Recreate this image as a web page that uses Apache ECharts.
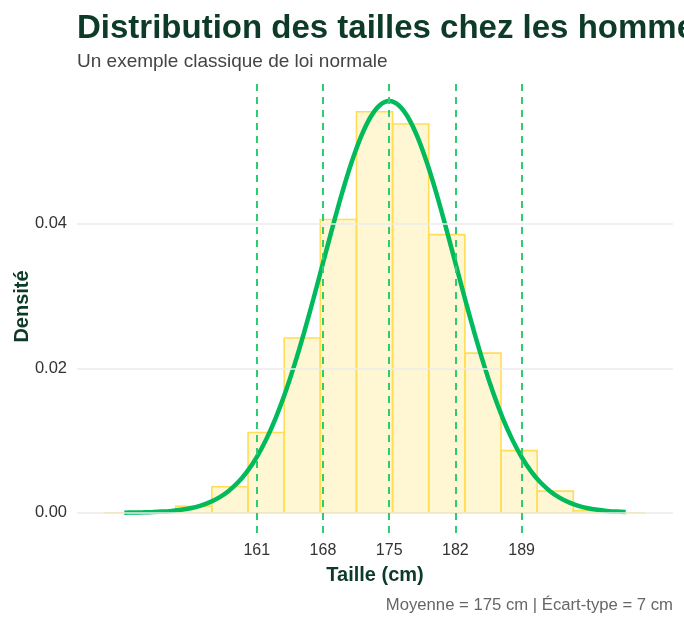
<!DOCTYPE html>
<html>
<head>
<meta charset="utf-8">
<script src="https://cdn.jsdelivr.net/npm/echarts@6/dist/echarts.min.js"></script>
<style>
  html, body { margin: 0; padding: 0; background: #fff; }
  #main { width: 684px; height: 622px; }
</style>
</head>
<body>
<div id="main"></div>
<script>
// bornes des classes de l'histogramme (cm)
const binEdges = [144.80, 148.62, 152.44, 156.26, 160.08, 163.90, 167.72, 171.54,
  175.36, 179.18, 183.00, 186.82, 190.64, 194.46, 198.28, 202.10];
// densité de chaque classe
const binDensity = [0, 0.0001, 0.0009, 0.0036, 0.0111, 0.0242, 0.0406, 0.0555,
  0.0538, 0.0385, 0.0221, 0.0086, 0.0030, 0.0003, 0];

// courbe normale
const curveX = [147, 148, 149, 150, 151, 152, 153, 154, 155, 156, 157, 158, 159, 160,
  161, 162, 163, 164, 165, 166, 167, 168, 169, 170, 171, 172, 173, 174, 175,
  176, 177, 178, 179, 180, 181, 182, 183, 184, 185, 186, 187, 188, 189, 190,
  191, 192, 193, 194, 195, 196, 197, 198, 199, 200];
const curveY = [0.00002, 0.00003, 0.00006, 0.00010, 0.00016, 0.00026, 0.00041, 0.00063,
  0.00096, 0.00143, 0.00209, 0.00299, 0.00418, 0.00574, 0.00771, 0.01016, 0.01311,
  0.01658, 0.02054, 0.02494, 0.02966, 0.03457, 0.03947, 0.04416, 0.04840, 0.05199,
  0.05471, 0.05641, 0.05699,
  0.05641, 0.05471, 0.05199, 0.04840, 0.04416, 0.03947, 0.03457, 0.02966, 0.02494,
  0.02054, 0.01658, 0.01311, 0.01016, 0.00771, 0.00574, 0.00418, 0.00299, 0.00209,
  0.00143, 0.00096, 0.00063, 0.00041, 0.00026, 0.00016, 0.00010];

// moyenne +/- 1 et 2 écarts-types
const sdLines = [161, 168, 175, 182, 189];
const xTicks = [161, 168, 175, 182, 189];
const yTicks = [0, 0.02, 0.04];

const FONT = 'Liberation Sans, Arial, sans-serif';

const chart = echarts.init(document.getElementById('main'));

const histData = binDensity.map((d, i) => [binEdges[i], binEdges[i + 1], d]);
const curveData = curveX.map((x, i) => [x, curveY[i]]);

const option = {
  backgroundColor: '#fff',
  animation: false,
  title: [
    {
      text: 'Distribution des tailles chez les hommes',
      left: 72, top: 7,
      textStyle: { fontFamily: FONT, fontSize: 33, fontWeight: 'bold', color: '#0e3b28' }
    },
    {
      text: 'Un exemple classique de loi normale',
      left: 72, top: 47,
      textStyle: { fontFamily: FONT, fontSize: 19, fontWeight: 'normal', color: '#444' }
    },
    {
      text: 'Moyenne = 175 cm | Écart-type = 7 cm',
      right: 6, top: 592,
      textStyle: { fontFamily: FONT, fontSize: 16.7, fontWeight: 'normal', color: '#666' }
    }
  ],
  grid: { left: 77, right: 11, top: 80, bottom: 89, containLabel: false, outerBoundsMode: 'none' },
  xAxis: {
    type: 'value',
    min: 142, max: 205,
    name: 'Taille (cm)',
    nameLocation: 'middle',
    nameGap: 32,
    nameMoveOverlap: false,
    nameTextStyle: { fontFamily: FONT, fontSize: 20, fontWeight: 'bold', color: '#0e3b28' },
    axisLine: { show: false },
    axisTick: { show: false },
    splitLine: { show: false },
    axisLabel: {
      customValues: xTicks,
      fontFamily: FONT, fontSize: 16, color: '#333', margin: 10
    }
  },
  yAxis: {
    type: 'value',
    min: -0.0028, max: 0.0599,
    name: 'Densité',
    nameLocation: 'middle',
    nameGap: 45,
    nameMoveOverlap: false,
    nameTextStyle: { fontFamily: FONT, fontSize: 20, fontWeight: 'bold', color: '#0e3b28' },
    axisLine: { show: false },
    axisTick: { show: false },
    splitLine: { show: false },
    axisLabel: {
      customValues: yTicks,
      formatter: v => v.toFixed(2),
      fontFamily: FONT, fontSize: 16.5, color: '#333', margin: 10
    }
  },
  series: [
    {
      // lignes de grille horizontales
      type: 'line',
      data: [],
      z: 1,
      silent: true,
      markLine: {
        silent: true,
        symbol: ['none', 'none'],
        label: { show: false },
        lineStyle: { color: '#ebebeb', width: 1.5, type: 'solid' },
        data: yTicks.map(v => ({ yAxis: v }))
      }
    },
    {
      type: 'custom',
      z: 2,
      data: histData,
      encode: { x: [0, 1], y: 2 },
      renderItem: function (params, api) {
        const p0 = api.coord([api.value(0), 0]);
        const p1 = api.coord([api.value(1), api.value(2)]);
        return {
          type: 'rect',
          shape: { x: p0[0], y: p1[1], width: p1[0] - p0[0], height: p0[1] - p1[1] },
          style: { fill: 'rgba(255, 230, 128, 0.35)', stroke: '#ffdd55', lineWidth: 1.6 }
        };
      }
    },
    {
      // lignes verticales des écarts-types
      type: 'line',
      data: [],
      z: 3,
      silent: true,
      markLine: {
        silent: true,
        symbol: ['none', 'none'],
        label: { show: false },
        lineStyle: { color: '#2ecc71', width: 2, type: [7, 6] },
        data: sdLines.map(v => ({ xAxis: v }))
      }
    },
    {
      type: 'line',
      z: 4,
      data: curveData,
      showSymbol: false,
      smooth: 0.3,
      lineStyle: { color: '#00ba5c', width: 4.5 }
    }
  ]
};

chart.setOption(option);
</script>
</body>
</html>
